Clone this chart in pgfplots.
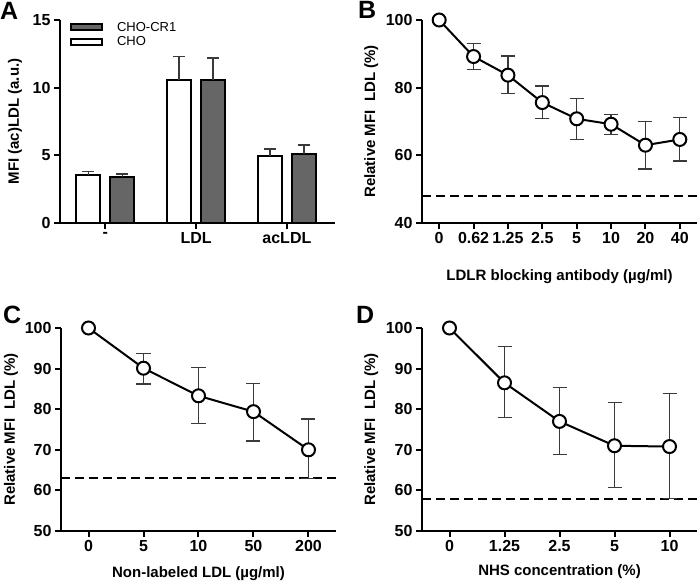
\documentclass[border=0pt]{standalone}
\usepackage{pgfplots}
\pgfplotsset{compat=1.18}
\usepackage{fontspec}
\setmainfont{Liberation Sans}

\definecolor{bargray}{HTML}{666666}
\definecolor{errgray}{HTML}{3A3A3A}

\newcommand{\tfs}{\fontsize{16}{18}\selectfont\bfseries}
\newcommand{\lfs}{\fontsize{15}{17}\selectfont\bfseries}
\newcommand{\pfs}{\fontsize{25}{25}\selectfont\bfseries}

\pgfplotsset{
  panel/.style={
    scale only axis, width=275pt, height=203pt,
    axis lines=left, axis line style={-, line width=2pt},
    tick align=outside, major tick length=6pt,
    tick style={line width=2pt, black},
    tick label style={font=\tfs},
    label style={font=\lfs},
    /pgf/number format/assume math mode=true,
    clip=false,
  },
  curve/.style={line width=2pt, black, mark=none,
    error bars/.cd, y dir=both, y explicit,
    error bar style={line width=1.3pt, errgray},
    error mark options={rotate=90, mark size=7pt, line width=1.3pt, errgray}},
  dots/.style={only marks, mark=*, mark size=6.5pt,
    mark options={line width=2pt, fill=white, draw=black}},
  refline/.style={black, line width=2pt, dash pattern=on 9pt off 5pt, mark=none},
}

% panel A: bar data
\pgfplotstableread{
x   y     ep
0   3.55  0.28
1   10.6  1.72
2   4.95  0.52
}\cho
\pgfplotstableread{
x   y     ep
0   3.38  0.24
1   10.6  1.6
2   5.1   0.67
}\chocr

% panel B
\pgfplotstableread{
x  y     ep   em
0  100   0    0
1  89.2  3.9  3.9
2  83.7  5.7  5.4
3  75.6  4.9  4.8
4  70.8  6.1  6.1
5  69.2  2.9  3.0
6  63.0  7.1  7.0
7  64.7  6.4  6.4
}\blocking

% panel C
\pgfplotstableread{
x  y     ep   em
0  100   0    0
1  90.1  3.6  3.9
2  83.3  6.9  6.9
3  79.4  7.0  7.2
4  70.0  7.6  7.0
}\unlabeled

% panel D
\pgfplotstableread{
x  y     ep    em
0  100   0     0
1  86.5  8.9   8.5
2  77.0  8.3   8.1
3  71.0  10.6  10.2
4  70.8  13.1  12.8
}\nhs

\begin{document}
\begin{tikzpicture}[x=1pt,y=1pt]
\useasboundingbox (0,0) rectangle (700,-587);

% ---------------- A
\node[font=\pfs, anchor=north west, inner sep=0pt] at (0,-2) {A};
\begin{axis}[panel, at={(60pt,-223pt)}, anchor=south west,
    ybar=10pt, bar width=24pt,
    xmin=-0.5, xmax=2.53, ymin=0, ymax=15,
    xtick={0,1,2}, xticklabels={-,LDL,acLDL},
    ytick={0,5,10,15},
    ylabel={MFI (ac)LDL (a.u.)},
    ylabel style={at={(axis description cs:-0.164,0.5)}, anchor=center},
    reverse legend,
    legend style={draw=none, fill=none, at={(axis description cs:0.036,1.0)},
      anchor=north west, font=\fontsize{13}{15}\selectfont, inner sep=0pt,
      row sep=0pt, cells={anchor=west}},
    legend image code/.code={
      \draw[#1, line width=2pt] (1pt,-3pt) rectangle (32pt,3pt);
      \path[draw=none, fill=none] (0pt,0pt) -- (45pt,0pt);},
    error bars/y dir=plus, error bars/y explicit,
    error bars/error bar style={line width=1.3pt, errgray},
    error bars/error mark options={rotate=90, mark size=6pt, line width=1.3pt, errgray},
  ]
  \addplot[fill=white, draw=black, line width=2pt]
    table[x=x, y=y, y error=ep] {\cho};
  \addlegendentry{CHO}
  \addplot[fill=bargray, draw=black, line width=2pt]
    table[x=x, y=y, y error=ep] {\chocr};
  \addlegendentry{CHO-CR1}
\end{axis}

% ---------------- B
\node[font=\pfs, anchor=north west, inner sep=0pt] at (358,-1) {B};
\begin{axis}[panel, at={(422pt,-223pt)}, anchor=south west,
    xmin=-0.5, xmax=7.5, ymin=40, ymax=100,
    xtick={0,...,7}, xticklabels={0,0.62,1.25,2.5,5,10,20,40},
    ytick={40,60,80,100},
    xlabel={LDLR blocking antibody (µg/ml)},
    xlabel style={at={(axis description cs:0.5,-0.266)}, anchor=center},
    ylabel={Relative MFI\ \ LDL (\%)},
    ylabel style={at={(axis description cs:-0.185,0.5)}, anchor=center},
  ]
  \addplot[refline] coordinates {(-0.5,48) (7.5,48)};
  \addplot[curve] table[x=x, y=y, y error plus=ep, y error minus=em] {\blocking};
  \addplot[dots] table[x=x, y=y] {\blocking};
\end{axis}

% ---------------- C
\node[font=\pfs, anchor=north west, inner sep=0pt] at (3,-306) {C};
\begin{axis}[panel, at={(61pt,-531pt)}, anchor=south west,
    xmin=-0.5, xmax=4.5, ymin=50, ymax=100,
    xtick={0,...,4}, xticklabels={0,5,10,50,200},
    ytick={50,60,...,100},
    xlabel={Non-labeled LDL (µg/ml)},
    xlabel style={at={(axis description cs:0.5,-0.21)}, anchor=center},
    ylabel={Relative MFI\ \ LDL (\%)},
    ylabel style={at={(axis description cs:-0.182,0.5)}, anchor=center},
  ]
  \addplot[refline] coordinates {(-0.5,63) (4.5,63)};
  \addplot[curve] table[x=x, y=y, y error plus=ep, y error minus=em] {\unlabeled};
  \addplot[dots] table[x=x, y=y] {\unlabeled};
\end{axis}

% ---------------- D
\node[font=\pfs, anchor=north west, inner sep=0pt] at (356,-306) {D};
\begin{axis}[panel, at={(422pt,-531pt)}, anchor=south west,
    xmin=-0.5, xmax=4.5, ymin=50, ymax=100,
    xtick={0,...,4}, xticklabels={0,1.25,2.5,5,10},
    ytick={50,60,...,100},
    xlabel={NHS concentration (\%)},
    xlabel style={at={(axis description cs:0.5,-0.2)}, anchor=center},
    ylabel={Relative MFI\ \ LDL (\%)},
    ylabel style={at={(axis description cs:-0.185,0.5)}, anchor=center},
  ]
  \addplot[refline] coordinates {(-0.5,58) (4.5,58)};
  \addplot[curve] table[x=x, y=y, y error plus=ep, y error minus=em] {\nhs};
  \addplot[dots] table[x=x, y=y] {\nhs};
\end{axis}
\end{tikzpicture}
\end{document}
